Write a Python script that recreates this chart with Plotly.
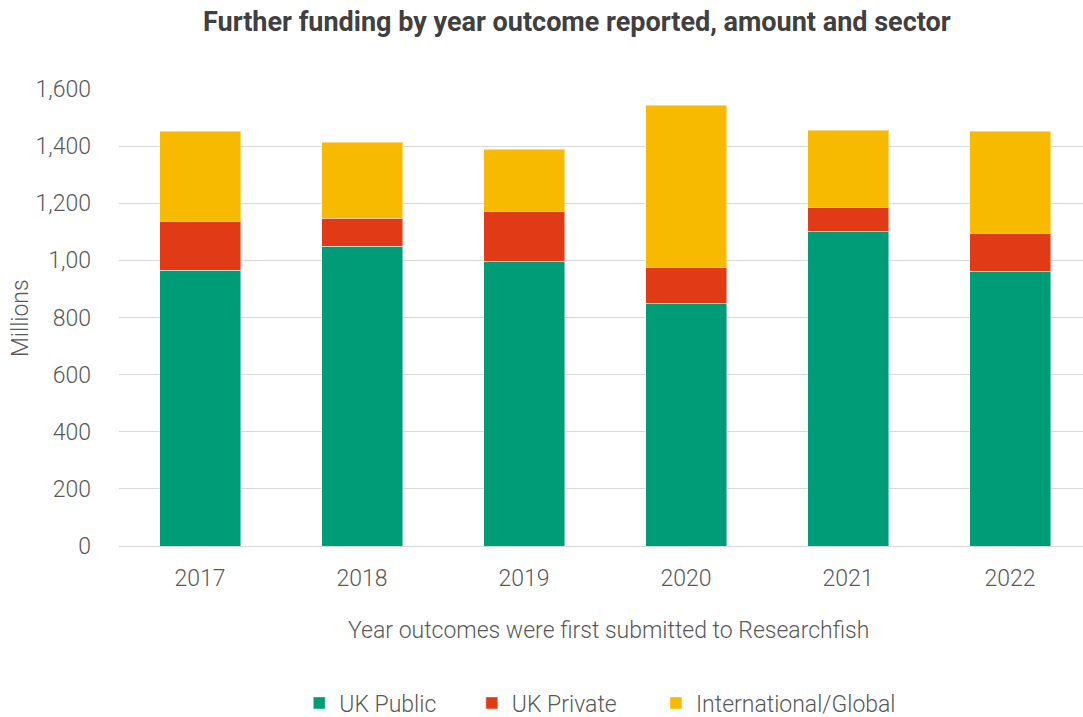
import plotly.graph_objects as go

years = ["2017", "2018", "2019", "2020", "2021", "2022"]
uk_public = [966, 1050, 997, 850, 1102, 962]
uk_private = [171, 98, 175, 126, 84, 133]
international = [315, 266, 217, 567, 270, 357]

tick_vals = [0, 200, 400, 600, 800, 1000, 1200, 1400, 1600]
tick_text = ["0", "200", "400", "600", "800", "1,00", "1,200", "1,400", "1,600"]

series = [
    ("UK Public", uk_public, "#009B77", "legend", 0.187),
    ("UK Private", uk_private, "#E03A16", "legend2", 0.366),
    ("International/Global", international, "#F7BA00", "legend3", 0.557),
]

font_main = "Roboto"
text_color = "#595959"
fsize = 23

fig = go.Figure()
legend_layouts = {}
for name, vals, color, leg, lx in series:
    fig.add_trace(go.Bar(
        x=years, y=vals, name=name, width=0.5, legend=leg,
        marker=dict(color=color, line=dict(color="rgba(255,255,255,0.45)", width=1)),
    ))
    legend_layouts[leg] = dict(
        orientation="h", x=lx, xanchor="left", y=-0.3435, yanchor="middle",
        font=dict(size=fsize, color=text_color, family=font_main, weight=300),
        itemwidth=30, itemclick=False, bgcolor="rgba(0,0,0,0)",
    )

fig.update_layout(
    width=1083, height=717,
    barmode="stack",
    paper_bgcolor="white", plot_bgcolor="white",
    margin=dict(l=119, r=0, t=89, b=171, pad=0, autoexpand=False),
    font=dict(family=font_main, size=fsize, color=text_color),
    showlegend=True,
    xaxis=dict(
        type="category", range=[-0.5, 5.45], automargin=False,
        showgrid=False, showline=False, ticks="",
        tickfont=dict(size=fsize, color=text_color, family=font_main, weight=300),
        ticklabelstandoff=16,
    ),
    yaxis=dict(
        range=[0, 1600], tickvals=tick_vals, ticktext=tick_text, automargin=False,
        showgrid=True, gridcolor="#d9d9d9", gridwidth=1,
        zeroline=True, zerolinecolor="#d9d9d9", zerolinewidth=1,
        showline=False, ticks="",
        tickfont=dict(size=fsize, color=text_color, family=font_main, weight=300),
        ticklabelstandoff=27,
    ),
    annotations=[
        dict(text="<b>Further funding by year outcome reported, amount and sector</b>",
             xref="paper", yref="paper", x=0.475, y=1.146, xanchor="center", yanchor="middle",
             showarrow=False, font=dict(size=27, color="#404040", family="Roboto")),
        dict(text="Year outcomes were first submitted to Researchfish",
             xref="paper", yref="paper", x=0.508, y=-0.184, xanchor="center", yanchor="middle",
             showarrow=False, font=dict(size=fsize, color=text_color, family=font_main, weight=300)),
        dict(text="Millions", textangle=-90,
             xref="paper", yref="paper", x=-0.102, y=0.498, xanchor="center", yanchor="middle",
             showarrow=False, font=dict(size=fsize, color=text_color, family=font_main, weight=300)),
    ],
    **legend_layouts,
)

fig.write_html("out.html")
